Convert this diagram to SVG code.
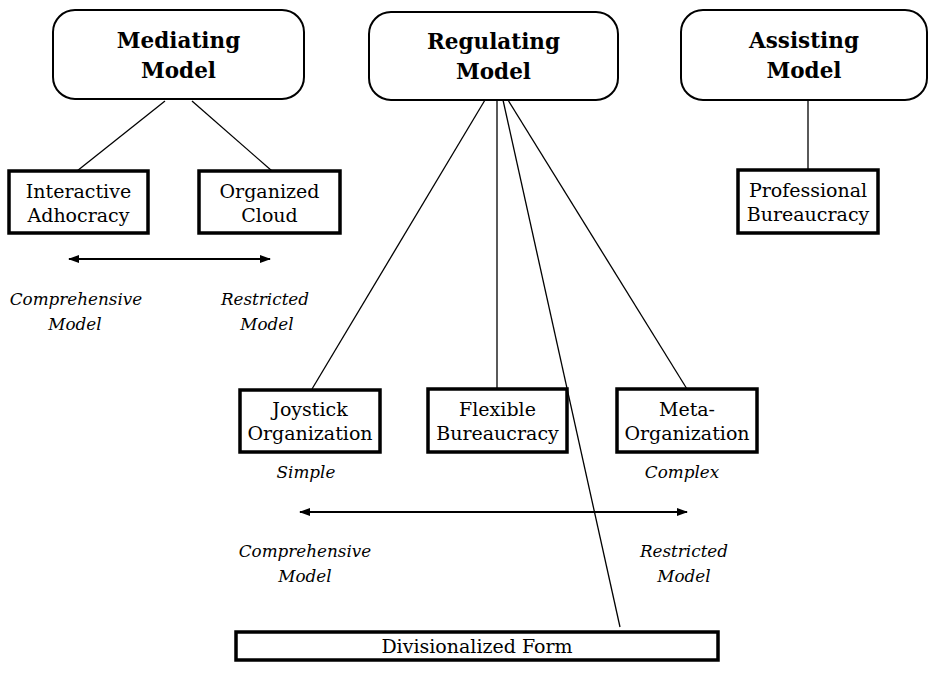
<svg xmlns="http://www.w3.org/2000/svg" width="929" height="679" viewBox="0 0 929 679">
  <style>
    text { font-family: "DejaVu Serif", "Liberation Serif", serif; fill: #000; text-anchor: middle; }
    .title { font-size: 21.5px; font-weight: bold; }
    .box-label { font-size: 19px; }
    .note { font-size: 16.8px; font-style: italic; }
    .model { fill: #fff; stroke: #000; stroke-width: 2; }
    .form { fill: #fff; stroke: #000; stroke-width: 3.5; }
    .link { stroke: #000; stroke-width: 1.3; fill: none; }
    .range { stroke: #000; stroke-width: 2; fill: none; }
  </style>
  <defs>
    <marker id="head" viewBox="0 0 11 8" refX="10" refY="4" markerWidth="11" markerHeight="8" markerUnits="userSpaceOnUse" orient="auto-start-reverse">
      <path d="M0,0 L11,4 L0,8 Z" fill="#000"/>
    </marker>
  </defs>
  <rect width="929" height="679" fill="#fff"/>

  <!-- connectors -->
  <g id="connectors">
    <line class="link" x1="165" y1="101" x2="77" y2="171"/>
    <line class="link" x1="192" y1="101" x2="272" y2="171"/>
    <line class="link" x1="808" y1="100" x2="808" y2="170"/>
    <line class="link" x1="485" y1="100" x2="312" y2="389"/>
    <line class="link" x1="497" y1="100" x2="497" y2="389"/>
    <line class="link" x1="503" y1="100" x2="620" y2="627"/>
    <line class="link" x1="508" y1="100" x2="687" y2="389"/>
    <line class="range" x1="69" y1="259" x2="270" y2="259" marker-start="url(#head)" marker-end="url(#head)"/>
    <line class="range" x1="300" y1="512" x2="687" y2="512" marker-start="url(#head)" marker-end="url(#head)"/>
  </g>

  <!-- top-level models -->
  <g id="mediating-model">
    <rect class="model" x="53" y="10" width="251" height="89" rx="22"/>
    <text class="title" x="178.5" y="48">Mediating</text>
    <text class="title" x="178.5" y="78">Model</text>
  </g>
  <g id="regulating-model">
    <rect class="model" x="369" y="12" width="249" height="88" rx="22"/>
    <text class="title" x="493.5" y="49">Regulating</text>
    <text class="title" x="493.5" y="79">Model</text>
  </g>
  <g id="assisting-model">
    <rect class="model" x="681" y="10" width="246" height="90" rx="22"/>
    <text class="title" x="804" y="48">Assisting</text>
    <text class="title" x="804" y="78">Model</text>
  </g>

  <!-- organizational forms -->
  <g id="interactive-adhocracy">
    <rect class="form" x="9" y="171" width="139" height="62"/>
    <text class="box-label" x="78.5" y="198">Interactive</text>
    <text class="box-label" x="78.5" y="222">Adhocracy</text>
  </g>
  <g id="organized-cloud">
    <rect class="form" x="199" y="171" width="141" height="62"/>
    <text class="box-label" x="269.5" y="198">Organized</text>
    <text class="box-label" x="269.5" y="222">Cloud</text>
  </g>
  <g id="professional-bureaucracy">
    <rect class="form" x="738" y="170" width="140" height="63"/>
    <text class="box-label" x="808" y="197">Professional</text>
    <text class="box-label" x="808" y="221">Bureaucracy</text>
  </g>
  <g id="joystick-organization">
    <rect class="form" x="240" y="390" width="140" height="62"/>
    <text class="box-label" x="310" y="416">Joystick</text>
    <text class="box-label" x="310" y="440">Organization</text>
  </g>
  <g id="flexible-bureaucracy">
    <rect class="form" x="428" y="389" width="139" height="63"/>
    <text class="box-label" x="497.5" y="416">Flexible</text>
    <text class="box-label" x="497.5" y="440">Bureaucracy</text>
  </g>
  <g id="meta-organization">
    <rect class="form" x="617" y="389" width="140" height="63"/>
    <text class="box-label" x="687" y="416">Meta-</text>
    <text class="box-label" x="687" y="440">Organization</text>
  </g>
  <g id="divisionalized-form">
    <rect class="form" x="236" y="632" width="482" height="28"/>
    <text class="box-label" x="477" y="653">Divisionalized Form</text>
  </g>

  <!-- range labels -->
  <g id="range-labels">
    <text class="note" x="76" y="305">Comprehensive</text>
    <text class="note" x="75" y="330">Model</text>
    <text class="note" x="265" y="305">Restricted</text>
    <text class="note" x="267" y="330">Model</text>
    <text class="note" x="306" y="478">Simple</text>
    <text class="note" x="682" y="478">Complex</text>
    <text class="note" x="305" y="557">Comprehensive</text>
    <text class="note" x="305" y="582">Model</text>
    <text class="note" x="684" y="557">Restricted</text>
    <text class="note" x="684" y="582">Model</text>
  </g>
</svg>
